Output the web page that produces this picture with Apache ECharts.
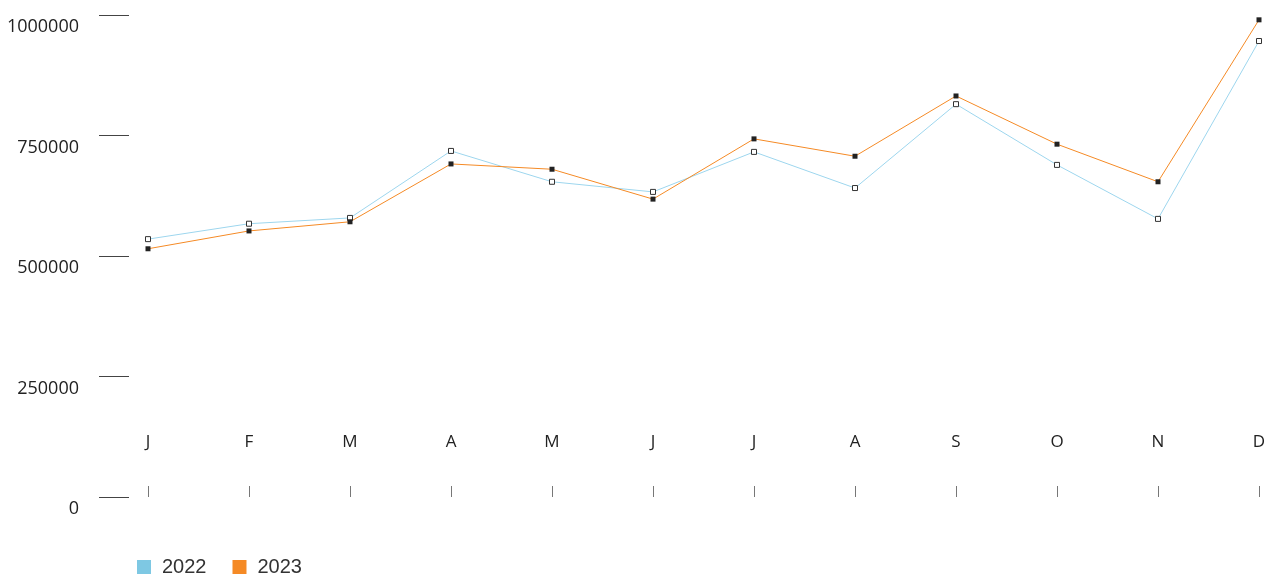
<!DOCTYPE html>
<html>
<head>
<meta charset="utf-8">
<script src="https://cdn.jsdelivr.net/npm/echarts@6/dist/echarts.min.js"></script>
<style>html,body{margin:0;padding:0;background:#fff}#c{width:1271px;height:574px}</style>
</head>
<body>
<div id="c"></div>
<script>
const categories = ['J','F','M','A','M','J','J','A','S','O','N','D'];
const seriesNames = ['2022','2023'];
const values2022 = [535000, 567000, 579000, 718000, 654000, 633000, 716000, 641000, 815000, 689000, 577000, 946000];
const values2023 = [515000, 552000, 571000, 691000, 680000, 618000, 743000, 707000, 832000, 732000, 654000, 990000];
const yTicks = [0, 250000, 500000, 750000, 1000000];

const chart = echarts.init(document.getElementById('c'));
chart.setOption({
  animation: false,
  grid: {left: 148, right: 12, top: 15, bottom: 77},
  legend: {
    left: 132, top: 552, itemWidth: 14, itemHeight: 14, itemGap: 26, icon: 'rect',
    textStyle: {fontFamily: 'Liberation Sans', fontSize: 20, color: '#333', padding: [0,0,0,6]},
    data: [
      {name: seriesNames[0], itemStyle: {color: '#7ec8e3', borderWidth: 0}},
      {name: seriesNames[1], itemStyle: {color: '#f58a25', borderWidth: 0}}
    ]
  },
  xAxis: {
    type: 'category', data: categories, boundaryGap: false,
    axisLine: {show: false},
    axisTick: {show: true, inside: true, length: 11, alignWithLabel: true, lineStyle: {color: '#777'}},
    axisLabel: {inside: true, margin: 46, fontFamily: 'Open Sans', fontSize: 17, color: '#222'},
    splitLine: {show: false}
  },
  yAxis: {
    type: 'value', min: yTicks[0], max: yTicks[yTicks.length - 1], interval: 250000,
    offset: 19,
    axisLine: {show: false},
    axisTick: {show: true, length: 30, lineStyle: {color: '#444'}},
    axisLabel: {margin: 50, fontFamily: 'Open Sans', fontSize: 18, color: '#222', verticalAlign: 'top', padding: [3,0,0,0],
      formatter: function (v) { return String(v); }},
    splitLine: {show: false}
  },
  series: [
    {
      name: seriesNames[0], type: 'line', data: values2022,
      symbol: 'rect', symbolSize: 5, showAllSymbol: true,
      lineStyle: {color: '#9dd6ee', width: 1},
      itemStyle: {color: '#fff', borderColor: '#333', borderWidth: 1}
    },
    {
      name: seriesNames[1], type: 'line', data: values2023,
      symbol: 'rect', symbolSize: 5, showAllSymbol: true,
      lineStyle: {color: '#f58a25', width: 1},
      itemStyle: {color: '#222', borderColor: '#222', borderWidth: 0}
    }
  ]
});
</script>
</body>
</html>
